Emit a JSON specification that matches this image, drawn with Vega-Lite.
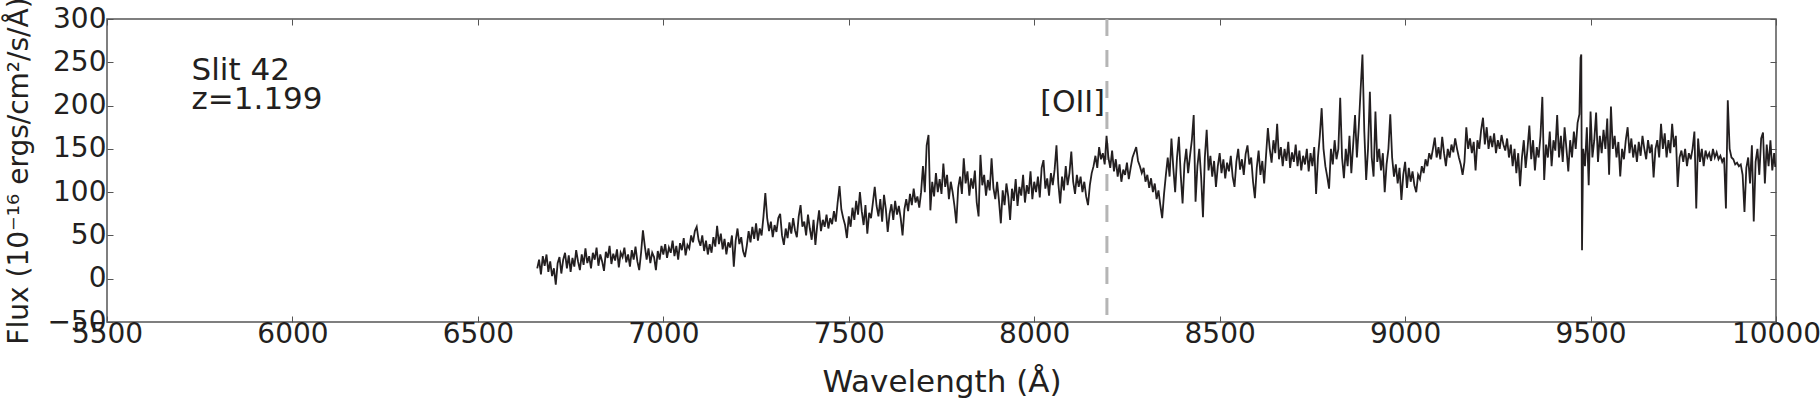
{
"$schema": "https://vega.github.io/schema/vega-lite/v6.json",
"width": 1669, "height": 303,
"autosize": {"type": "none"},
"padding": {"left": 107, "top": 19, "right": 44, "bottom": 77},
"background": "white",
"config": {
  "view": {"stroke": "#555555", "strokeWidth": 1.5},
  "axis": {"grid": false, "domain": false, "tickColor": "#555555", "tickWidth": 1, "tickSize": -6,
    "labelFont": "DejaVu Sans", "labelFontSize": 28, "labelColor": "#231f20",
    "titleFont": "DejaVu Sans", "titleFontWeight": "normal", "titleColor": "#231f20"}
},
"datasets": {
  "spec": [
{"w":6660,"f":12},{"w":6665,"f":22},{"w":6670,"f":5},{"w":6675,"f":26},{"w":6680,"f":15},{"w":6685,"f":28},{"w":6690,"f":8},{"w":6695,"f":20},{"w":6700,"f":3},{"w":6705,"f":12},{"w":6710,"f":-7},{"w":6715,"f":18},{"w":6720,"f":25},{"w":6725,"f":6},{"w":6730,"f":22},{"w":6735,"f":30},{"w":6740,"f":12},{"w":6745,"f":27},{"w":6750,"f":8},{"w":6755,"f":24},{"w":6760,"f":14},{"w":6765,"f":33},{"w":6770,"f":20},{"w":6775,"f":10},{"w":6780,"f":28},{"w":6785,"f":16},{"w":6790,"f":35},{"w":6795,"f":18},{"w":6800,"f":26},{"w":6805,"f":12},{"w":6810,"f":30},{"w":6815,"f":22},{"w":6820,"f":36},{"w":6825,"f":15},{"w":6830,"f":28},{"w":6835,"f":20},{"w":6840,"f":9},{"w":6845,"f":31},{"w":6850,"f":24},{"w":6855,"f":38},{"w":6860,"f":17},{"w":6865,"f":29},{"w":6870,"f":21},{"w":6875,"f":34},{"w":6880,"f":13},{"w":6885,"f":30},{"w":6890,"f":25},{"w":6895,"f":36},{"w":6900,"f":19},{"w":6905,"f":28},{"w":6910,"f":14},{"w":6915,"f":33},{"w":6920,"f":22},{"w":6925,"f":37},{"w":6930,"f":20},{"w":6935,"f":10},{"w":6940,"f":30},{"w":6945,"f":56},{"w":6950,"f":38},{"w":6955,"f":22},{"w":6960,"f":35},{"w":6965,"f":18},{"w":6970,"f":30},{"w":6975,"f":25},{"w":6980,"f":10},{"w":6985,"f":32},{"w":6990,"f":22},{"w":6995,"f":38},
{"w":7000,"f":28},{"w":7005,"f":40},{"w":7010,"f":24},{"w":7015,"f":36},{"w":7020,"f":30},{"w":7025,"f":44},{"w":7030,"f":26},{"w":7035,"f":38},{"w":7040,"f":22},{"w":7045,"f":41},{"w":7050,"f":33},{"w":7055,"f":47},{"w":7060,"f":27},{"w":7065,"f":39},{"w":7070,"f":35},{"w":7075,"f":50},{"w":7080,"f":42},{"w":7085,"f":55},{"w":7090,"f":60},{"w":7095,"f":45},{"w":7100,"f":38},{"w":7105,"f":50},{"w":7110,"f":32},{"w":7115,"f":44},{"w":7120,"f":28},{"w":7125,"f":40},{"w":7130,"f":30},{"w":7135,"f":48},{"w":7140,"f":37},{"w":7145,"f":61},{"w":7150,"f":40},{"w":7155,"f":52},{"w":7160,"f":34},{"w":7165,"f":46},{"w":7170,"f":28},{"w":7175,"f":42},{"w":7180,"f":36},{"w":7185,"f":50},{"w":7190,"f":14},{"w":7195,"f":44},
{"w":7200,"f":58},{"w":7205,"f":40},{"w":7210,"f":48},{"w":7215,"f":32},{"w":7220,"f":25},{"w":7225,"f":38},{"w":7230,"f":55},{"w":7235,"f":42},{"w":7240,"f":60},{"w":7245,"f":46},{"w":7250,"f":64},{"w":7255,"f":44},{"w":7260,"f":58},{"w":7265,"f":50},{"w":7270,"f":72},{"w":7275,"f":99},{"w":7280,"f":70},{"w":7285,"f":55},{"w":7290,"f":66},{"w":7295,"f":48},{"w":7300,"f":62},{"w":7305,"f":54},{"w":7310,"f":70},{"w":7315,"f":75},{"w":7320,"f":50},{"w":7325,"f":39},{"w":7330,"f":58},{"w":7335,"f":47},{"w":7340,"f":65},{"w":7345,"f":52},{"w":7350,"f":70},{"w":7355,"f":56},{"w":7360,"f":48},{"w":7365,"f":72},{"w":7370,"f":85},{"w":7375,"f":60},{"w":7380,"f":66},{"w":7385,"f":50},{"w":7390,"f":74},{"w":7395,"f":58},{"w":7400,"f":45},{"w":7405,"f":68},{"w":7410,"f":39},{"w":7415,"f":62},{"w":7420,"f":79},{"w":7425,"f":55},{"w":7430,"f":68},{"w":7435,"f":60},{"w":7440,"f":74},{"w":7445,"f":58},{"w":7450,"f":70},{"w":7455,"f":63},{"w":7460,"f":78},{"w":7465,"f":66},{"w":7470,"f":88},{"w":7475,"f":107},{"w":7480,"f":80},{"w":7485,"f":70},{"w":7490,"f":62},{"w":7495,"f":47},
{"w":7500,"f":72},{"w":7505,"f":60},{"w":7510,"f":82},{"w":7515,"f":68},{"w":7520,"f":90},{"w":7525,"f":74},{"w":7530,"f":100},{"w":7535,"f":78},{"w":7540,"f":62},{"w":7545,"f":85},{"w":7550,"f":52},{"w":7555,"f":76},{"w":7560,"f":70},{"w":7565,"f":88},{"w":7570,"f":106},{"w":7575,"f":84},{"w":7580,"f":72},{"w":7585,"f":92},{"w":7590,"f":66},{"w":7595,"f":97},{"w":7600,"f":80},{"w":7605,"f":54},{"w":7610,"f":75},{"w":7615,"f":86},{"w":7620,"f":68},{"w":7625,"f":90},{"w":7630,"f":74},{"w":7635,"f":84},{"w":7640,"f":70},{"w":7645,"f":50},{"w":7650,"f":80},{"w":7655,"f":92},{"w":7660,"f":78},{"w":7665,"f":98},{"w":7670,"f":85},{"w":7675,"f":104},{"w":7680,"f":88},{"w":7685,"f":95},{"w":7690,"f":82},{"w":7695,"f":100},
{"w":7700,"f":130},{"w":7705,"f":100},{"w":7710,"f":154},{"w":7715,"f":166},{"w":7720,"f":79},{"w":7725,"f":112},{"w":7730,"f":95},{"w":7735,"f":122},{"w":7740,"f":100},{"w":7745,"f":115},{"w":7750,"f":98},{"w":7755,"f":133},{"w":7760,"f":106},{"w":7765,"f":120},{"w":7770,"f":92},{"w":7775,"f":112},{"w":7780,"f":100},{"w":7785,"f":84},{"w":7790,"f":64},{"w":7795,"f":105},{"w":7800,"f":118},{"w":7805,"f":98},{"w":7810,"f":139},{"w":7815,"f":110},{"w":7820,"f":124},{"w":7825,"f":96},{"w":7830,"f":116},{"w":7835,"f":104},{"w":7840,"f":125},{"w":7845,"f":88},{"w":7850,"f":72},{"w":7855,"f":143},{"w":7860,"f":108},{"w":7865,"f":120},{"w":7870,"f":96},{"w":7875,"f":114},{"w":7880,"f":102},{"w":7885,"f":139},{"w":7890,"f":105},{"w":7895,"f":92},
{"w":7900,"f":112},{"w":7905,"f":90},{"w":7910,"f":64},{"w":7915,"f":102},{"w":7920,"f":85},{"w":7925,"f":110},{"w":7930,"f":95},{"w":7935,"f":68},{"w":7940,"f":104},{"w":7945,"f":90},{"w":7950,"f":115},{"w":7955,"f":84},{"w":7960,"f":106},{"w":7965,"f":96},{"w":7970,"f":120},{"w":7975,"f":88},{"w":7980,"f":108},{"w":7985,"f":98},{"w":7990,"f":124},{"w":7995,"f":92},{"w":8000,"f":112},{"w":8005,"f":100},{"w":8010,"f":118},{"w":8015,"f":94},{"w":8020,"f":128},{"w":8025,"f":137},{"w":8030,"f":104},{"w":8035,"f":116},{"w":8040,"f":96},{"w":8045,"f":122},{"w":8050,"f":108},{"w":8055,"f":126},{"w":8060,"f":154},{"w":8065,"f":110},{"w":8070,"f":87},{"w":8075,"f":118},{"w":8080,"f":102},{"w":8085,"f":130},{"w":8090,"f":108},{"w":8095,"f":122},{"w":8100,"f":147},{"w":8105,"f":112},{"w":8110,"f":98},{"w":8115,"f":120},{"w":8120,"f":106},{"w":8125,"f":118},{"w":8130,"f":100},{"w":8135,"f":112},{"w":8140,"f":95},{"w":8145,"f":85},{"w":8150,"f":108},{"w":8155,"f":122},{"w":8160,"f":130},{"w":8165,"f":142},{"w":8170,"f":128},{"w":8175,"f":152},{"w":8180,"f":138},{"w":8185,"f":145},{"w":8190,"f":132},{"w":8195,"f":165},
{"w":8200,"f":140},{"w":8205,"f":128},{"w":8210,"f":148},{"w":8215,"f":124},{"w":8220,"f":138},{"w":8225,"f":118},{"w":8230,"f":132},{"w":8235,"f":112},{"w":8240,"f":126},{"w":8245,"f":120},{"w":8250,"f":134},{"w":8255,"f":115},{"w":8260,"f":128},{"w":8265,"f":140},{"w":8270,"f":146},{"w":8275,"f":152},{"w":8280,"f":136},{"w":8285,"f":130},{"w":8290,"f":122},{"w":8295,"f":128},{"w":8300,"f":112},{"w":8305,"f":120},{"w":8310,"f":105},{"w":8315,"f":116},{"w":8320,"f":100},{"w":8325,"f":110},{"w":8330,"f":92},{"w":8335,"f":102},{"w":8340,"f":85},{"w":8345,"f":70},{"w":8350,"f":98},{"w":8355,"f":120},{"w":8360,"f":140},{"w":8365,"f":118},{"w":8370,"f":162},{"w":8375,"f":128},{"w":8380,"f":100},{"w":8385,"f":140},{"w":8390,"f":164},{"w":8395,"f":120},
{"w":8400,"f":87},{"w":8405,"f":132},{"w":8410,"f":150},{"w":8415,"f":122},{"w":8420,"f":142},{"w":8425,"f":160},{"w":8430,"f":189},{"w":8435,"f":89},{"w":8440,"f":130},{"w":8445,"f":150},{"w":8450,"f":118},{"w":8455,"f":71},{"w":8460,"f":140},{"w":8465,"f":172},{"w":8470,"f":125},{"w":8475,"f":142},{"w":8480,"f":118},{"w":8485,"f":136},{"w":8490,"f":106},{"w":8495,"f":130},{"w":8500,"f":145},{"w":8505,"f":122},{"w":8510,"f":138},{"w":8515,"f":116},{"w":8520,"f":134},{"w":8525,"f":124},{"w":8530,"f":142},{"w":8535,"f":118},{"w":8540,"f":106},{"w":8545,"f":135},{"w":8550,"f":150},{"w":8555,"f":126},{"w":8560,"f":138},{"w":8565,"f":120},{"w":8570,"f":144},{"w":8575,"f":154},{"w":8580,"f":132},{"w":8585,"f":140},{"w":8590,"f":112},{"w":8595,"f":93},{"w":8600,"f":128},{"w":8605,"f":148},{"w":8610,"f":120},{"w":8615,"f":136},{"w":8620,"f":110},{"w":8625,"f":142},{"w":8630,"f":174},{"w":8635,"f":150},{"w":8640,"f":134},{"w":8645,"f":160},{"w":8650,"f":145},{"w":8655,"f":179},{"w":8660,"f":138},{"w":8665,"f":152},{"w":8670,"f":130},{"w":8675,"f":150},{"w":8680,"f":136},{"w":8685,"f":158},{"w":8690,"f":128},{"w":8695,"f":146},
{"w":8700,"f":135},{"w":8705,"f":155},{"w":8710,"f":130},{"w":8715,"f":148},{"w":8720,"f":125},{"w":8725,"f":142},{"w":8730,"f":132},{"w":8735,"f":150},{"w":8740,"f":124},{"w":8745,"f":145},{"w":8750,"f":130},{"w":8755,"f":152},{"w":8760,"f":98},{"w":8765,"f":140},{"w":8770,"f":165},{"w":8775,"f":197},{"w":8780,"f":150},{"w":8785,"f":130},{"w":8790,"f":118},{"w":8795,"f":104},{"w":8800,"f":150},{"w":8805,"f":132},{"w":8810,"f":160},{"w":8815,"f":138},{"w":8820,"f":150},{"w":8825,"f":209},{"w":8830,"f":140},{"w":8835,"f":116},{"w":8840,"f":150},{"w":8845,"f":130},{"w":8850,"f":165},{"w":8855,"f":122},{"w":8860,"f":155},{"w":8865,"f":189},{"w":8870,"f":140},{"w":8875,"f":175},{"w":8880,"f":218},{"w":8885,"f":259},{"w":8890,"f":170},{"w":8895,"f":114},
{"w":8900,"f":150},{"w":8905,"f":216},{"w":8910,"f":140},{"w":8915,"f":118},{"w":8920,"f":193},{"w":8925,"f":135},{"w":8930,"f":150},{"w":8935,"f":125},{"w":8940,"f":145},{"w":8945,"f":100},{"w":8950,"f":132},{"w":8955,"f":150},{"w":8960,"f":190},{"w":8965,"f":140},{"w":8970,"f":118},{"w":8975,"f":132},{"w":8980,"f":110},{"w":8985,"f":128},{"w":8990,"f":91},{"w":8995,"f":120},
{"w":9000,"f":135},{"w":9005,"f":105},{"w":9010,"f":128},{"w":9015,"f":112},{"w":9020,"f":124},{"w":9025,"f":108},{"w":9030,"f":100},{"w":9035,"f":120},{"w":9040,"f":115},{"w":9045,"f":130},{"w":9050,"f":122},{"w":9055,"f":138},{"w":9060,"f":130},{"w":9065,"f":145},{"w":9070,"f":138},{"w":9075,"f":150},{"w":9080,"f":163},{"w":9085,"f":140},{"w":9090,"f":152},{"w":9095,"f":138},{"w":9100,"f":164},{"w":9105,"f":145},{"w":9110,"f":130},{"w":9115,"f":150},{"w":9120,"f":140},{"w":9125,"f":155},{"w":9130,"f":146},{"w":9135,"f":162},{"w":9140,"f":150},{"w":9145,"f":140},{"w":9150,"f":132},{"w":9155,"f":120},{"w":9160,"f":135},{"w":9165,"f":175},{"w":9170,"f":150},{"w":9175,"f":162},{"w":9180,"f":145},{"w":9185,"f":158},{"w":9190,"f":125},{"w":9195,"f":160},
{"w":9200,"f":150},{"w":9205,"f":172},{"w":9210,"f":186},{"w":9215,"f":155},{"w":9220,"f":175},{"w":9225,"f":150},{"w":9230,"f":165},{"w":9235,"f":152},{"w":9240,"f":168},{"w":9245,"f":145},{"w":9250,"f":160},{"w":9255,"f":150},{"w":9260,"f":166},{"w":9265,"f":155},{"w":9270,"f":148},{"w":9275,"f":162},{"w":9280,"f":140},{"w":9285,"f":155},{"w":9290,"f":130},{"w":9295,"f":150},{"w":9300,"f":122},{"w":9305,"f":145},{"w":9310,"f":107},{"w":9315,"f":140},{"w":9320,"f":160},{"w":9325,"f":128},{"w":9330,"f":150},{"w":9335,"f":177},{"w":9340,"f":138},{"w":9345,"f":160},{"w":9350,"f":125},{"w":9355,"f":152},{"w":9360,"f":140},{"w":9365,"f":165},{"w":9370,"f":210},{"w":9375,"f":114},{"w":9380,"f":155},{"w":9385,"f":140},{"w":9390,"f":170},{"w":9395,"f":130},
{"w":9400,"f":160},{"w":9405,"f":148},{"w":9410,"f":189},{"w":9415,"f":140},{"w":9420,"f":165},{"w":9425,"f":135},{"w":9430,"f":175},{"w":9435,"f":150},{"w":9440,"f":124},{"w":9445,"f":160},{"w":9450,"f":140},{"w":9455,"f":170},{"w":9460,"f":150},{"w":9465,"f":180},{"w":9470,"f":190},{"w":9473,"f":255},{"w":9475,"f":259},{"w":9477,"f":33},{"w":9480,"f":150},{"w":9485,"f":130},{"w":9490,"f":175},{"w":9495,"f":108},
{"w":9500,"f":193},{"w":9505,"f":140},{"w":9510,"f":160},{"w":9515,"f":192},{"w":9520,"f":135},{"w":9525,"f":165},{"w":9530,"f":145},{"w":9535,"f":172},{"w":9540,"f":150},{"w":9545,"f":185},{"w":9550,"f":120},{"w":9555,"f":199},{"w":9560,"f":150},{"w":9565,"f":165},{"w":9570,"f":140},{"w":9575,"f":158},{"w":9580,"f":118},{"w":9585,"f":150},{"w":9590,"f":138},{"w":9595,"f":160},{"w":9600,"f":175},{"w":9605,"f":145},{"w":9610,"f":162},{"w":9615,"f":140},{"w":9620,"f":155},{"w":9625,"f":135},{"w":9630,"f":158},{"w":9635,"f":142},{"w":9640,"f":165},{"w":9645,"f":150},{"w":9650,"f":138},{"w":9655,"f":160},{"w":9660,"f":145},{"w":9665,"f":155},{"w":9670,"f":117},{"w":9675,"f":150},{"w":9680,"f":160},{"w":9685,"f":140},{"w":9690,"f":179},{"w":9695,"f":150},
{"w":9700,"f":168},{"w":9705,"f":140},{"w":9710,"f":160},{"w":9715,"f":145},{"w":9720,"f":179},{"w":9725,"f":152},{"w":9730,"f":165},{"w":9735,"f":106},{"w":9740,"f":140},{"w":9745,"f":148},{"w":9750,"f":135},{"w":9755,"f":150},{"w":9760,"f":130},{"w":9765,"f":145},{"w":9770,"f":138},{"w":9775,"f":150},{"w":9780,"f":170},{"w":9785,"f":81},{"w":9790,"f":162},{"w":9795,"f":135},{"w":9800,"f":150},{"w":9805,"f":130},{"w":9810,"f":148},{"w":9815,"f":140},{"w":9820,"f":145},{"w":9825,"f":136},{"w":9830,"f":150},{"w":9835,"f":140},{"w":9840,"f":146},{"w":9845,"f":138},{"w":9850,"f":142},{"w":9855,"f":135},{"w":9860,"f":140},{"w":9865,"f":81},{"w":9870,"f":206},{"w":9875,"f":150},{"w":9880,"f":140},{"w":9885,"f":138},{"w":9890,"f":132},{"w":9895,"f":134},
{"w":9900,"f":130},{"w":9905,"f":132},{"w":9910,"f":120},{"w":9915,"f":77},{"w":9920,"f":128},{"w":9925,"f":140},{"w":9930,"f":110},{"w":9935,"f":154},{"w":9940,"f":66},{"w":9945,"f":135},{"w":9950,"f":150},{"w":9955,"f":120},{"w":9960,"f":162},{"w":9965,"f":169},{"w":9970,"f":110},{"w":9975,"f":155},{"w":9980,"f":130},{"w":9985,"f":160},{"w":9990,"f":125},{"w":9995,"f":145},{"w":9998,"f":129}
  ],
  "notes": [
    {"t": "Slit 42", "w": 5728, "f": 229.5},
    {"t": "z=1.199", "w": 5728, "f": 195.5}
  ],
  "lines": [
    {"t": "[OII]", "w": 8196, "f": 192.6}
  ]
},
"layer": [
  {
    "data": {"name": "lines"},
    "mark": {"type": "rule", "color": "#b5b5b5", "strokeWidth": 3, "strokeDash": [17, 14]},
    "encoding": {
      "x": {"field": "w", "type": "quantitative", "axis": null, "scale": {"domain": [5500, 10000], "nice": false, "zero": false}}
    }
  },
  {
    "data": {"name": "spec"},
    "mark": {"type": "line", "color": "#231f20", "strokeWidth": 1.8, "strokeJoin": "miter", "clip": true},
    "encoding": {
      "x": {"field": "w", "type": "quantitative",
        "scale": {"domain": [5500, 10000], "nice": false, "zero": false},
        "axis": {"orient": "bottom", "values": [5500,6000,6500,7000,7500,8000,8500,9000,9500,10000], "format": "d",
          "labelPadding": 4, "labelOverlap": false, "labelBound": false, "labelFlush": false,
          "title": "Wavelength (Å)", "titleFontSize": 31, "titleX": 834.5, "titleY": 69, "titleBaseline": "alphabetic", "titleAlign": "center"}},
      "y": {"field": "f", "type": "quantitative",
        "scale": {"domain": [-50, 300], "nice": false, "zero": false},
        "axis": {"orient": "left", "values": [-50,0,50,100,150,200,250,300], "format": "d",
          "labelPadding": 7, "labelOverlap": false, "labelBound": false, "labelFlush": false,
          "title": "Flux (10⁻¹⁶ ergs/cm²/s/Å)", "titleFontSize": 28, "titleAngle": -90, "titleX": -80, "titleY": 151.5, "titleBaseline": "alphabetic", "titleAlign": "center"}}
    }
  },
  {
    "data": {"name": "notes"},
    "mark": {"type": "text", "align": "left", "baseline": "alphabetic", "font": "DejaVu Sans", "fontSize": 31, "color": "#231f20"},
    "encoding": {
      "x": {"field": "w", "type": "quantitative", "scale": {"domain": [5500, 10000], "nice": false, "zero": false},
        "axis": {"orient": "top", "values": [5500,6000,6500,7000,7500,8000,8500,9000,9500,10000], "labels": false, "title": null}},
      "y": {"field": "f", "type": "quantitative", "scale": {"domain": [-50, 300], "nice": false, "zero": false},
        "axis": {"orient": "right", "values": [-50,0,50,100,150,200,250,300], "labels": false, "title": null}},
      "text": {"field": "t"}
    }
  },
  {
    "data": {"name": "lines"},
    "mark": {"type": "text", "align": "right", "baseline": "alphabetic", "font": "DejaVu Sans", "fontSize": 30, "color": "#231f20", "dx": -2},
    "encoding": {
      "x": {"field": "w", "type": "quantitative", "axis": null},
      "y": {"field": "f", "type": "quantitative", "axis": null},
      "text": {"field": "t"}
    }
  }
],
"resolve": {"axis": {"x": "independent", "y": "independent"}}
}
